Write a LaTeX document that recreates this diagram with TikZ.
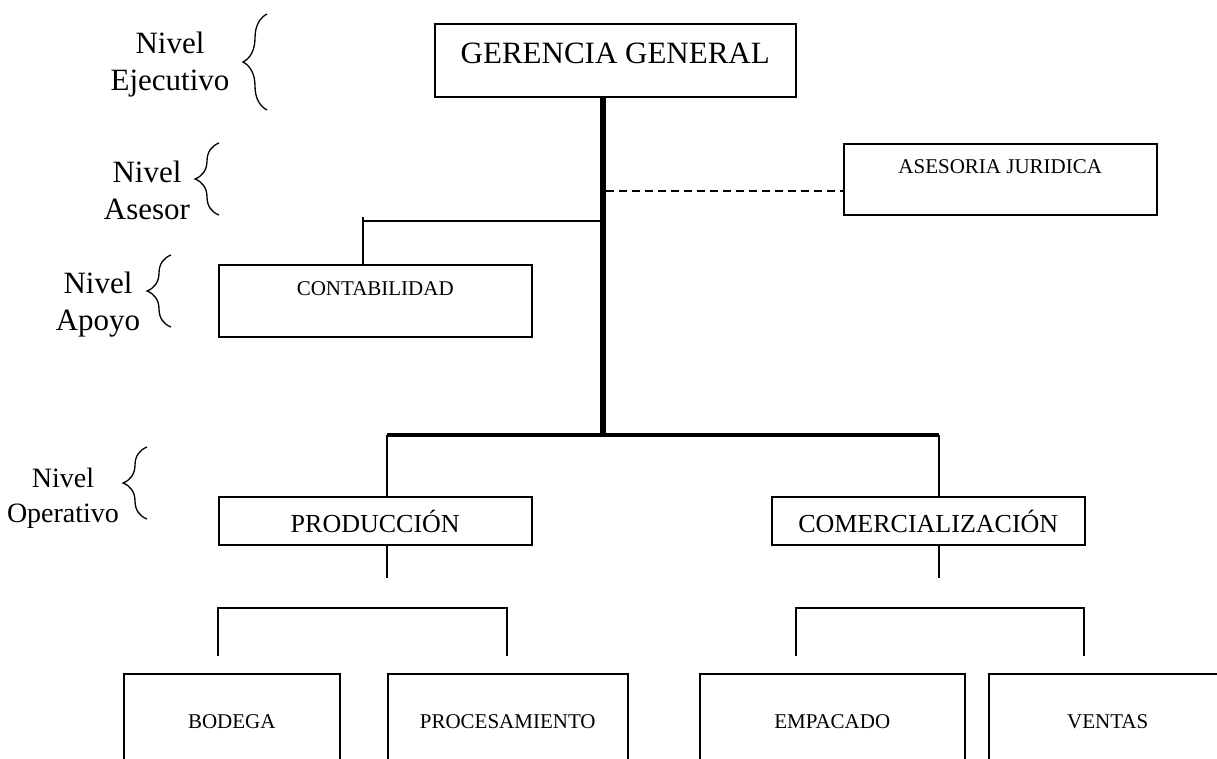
\documentclass[tikz,border=0pt]{standalone}
\usepackage{fontspec}
\setmainfont{Liberation Serif}
\usetikzlibrary{positioning}
\usetikzlibrary{calc}
\usetikzlibrary{decorations.pathreplacing}

\tikzset{
  caja/.style={draw, line width=1.5pt, inner sep=0pt, anchor=north west},
  linea/.style={line width=1.6pt},
  tronco/.style={line width=5.5pt},
  ramal/.style={line width=4pt},
  llave/.style={decorate, decoration={brace, amplitude=24pt}, line width=1.3pt},
  nivel/.style={align=center, inner sep=0pt, anchor=north},
}

\begin{document}
\begin{tikzpicture}[x=1pt, y=-1pt]
    \useasboundingbox (0,0) rectangle (1217,758);
    \clip (0,0) rectangle (1217,758);

    % niveles
    \foreach \cx/\ny/\txt/\bx/\by/\bb/\fs/\ls in {170/32/Ejecutivo/267/14/110/31/37, 147/161/Asesor/219/143/215/31/37,
                                                  98/272/Apoyo/171/255/327/31/37, 63/468/Operativo/147/447/519/28/35} {
      \node[nivel, font=\fontsize{\fs}{\ls}\selectfont] (N\txt) at (\cx,\ny) {Nivel\\\txt};
      \draw[llave] (\bx,\bb) -- (\bx,\by);
    }

    % unidades
    \node[caja, minimum width=361pt, text height=40pt, text depth=33pt,
          font=\fontsize{31}{37}\selectfont] (GG) at (434,23) {GERENCIA GENERAL};
    \node[caja, minimum width=313pt, text height=30pt, text depth=41pt,
          font=\fontsize{21}{25}\selectfont] (AJ) at (843,143) {ASESORIA JURIDICA};
    \node[caja, minimum width=313pt, text height=31pt, text depth=41pt,
          font=\fontsize{21}{25}\selectfont] (CO) at (218,264) {CONTABILIDAD};
    \node[caja, minimum width=313pt, text height=36pt, text depth=12pt,
          font=\fontsize{26}{31}\selectfont] (PR) at (218,496) {PRODUCCIÓN};
    \node[caja, minimum width=313pt, text height=36pt, text depth=12pt,
          font=\fontsize{26}{31}\selectfont] (CM) at (771,496) {COMERCIALIZACIÓN};
    \foreach \txt/\x/\w [count=\i] in {BODEGA/123/216, PROCESAMIENTO/387/240,
                                        EMPACADO/699/265, VENTAS/988/238} {
      \node[caja, minimum width=\w pt, text height=55pt, text depth=55pt,
            font=\fontsize{21}{25}\selectfont] (D\i) at (\x,673) {\txt};
    }

    % lineas
    \coordinate (T1) at (603,191);
    \coordinate (T2) at (603,221);
    \coordinate (T3) at (603,435);
    \coordinate (C1) at (363,217);
    \coordinate (P1) at (387,435);
    \coordinate (P2) at (939,435);
    \draw[tronco] (GG.south -| T3) -- (T3);
    \draw[ramal] (P1) -- (P2);
    \draw[linea] (P1) -- (P1 |- PR.north);
    \draw[linea] (P2) -- (P2 |- CM.north);
    \draw[linea] (P1 |- PR.south) -- ++(0,32);
    \draw[linea] (P2 |- CM.south) -- ++(0,32);
    \draw[linea, dash pattern=on 8pt off 5pt] ($(T1)+(3,0)$) -- (T1 -| AJ.west);
    \draw[linea] (T2) -- (T2 -| C1);
    \draw[linea] (C1) -- (C1 |- CO.north);

    % llaves inferiores
    \coordinate (L1) at (218,608);
    \coordinate (L2) at (507,608);
    \coordinate (L3) at (796,608);
    \coordinate (L4) at (1084,608);
    \draw[linea] ($(L1)+(0,48)$) -- (L1) -- (L2) -- ++(0,48);
    \draw[linea] ($(L3)+(0,48)$) -- (L3) -- (L4) -- ++(0,48);
\end{tikzpicture}
\end{document}
